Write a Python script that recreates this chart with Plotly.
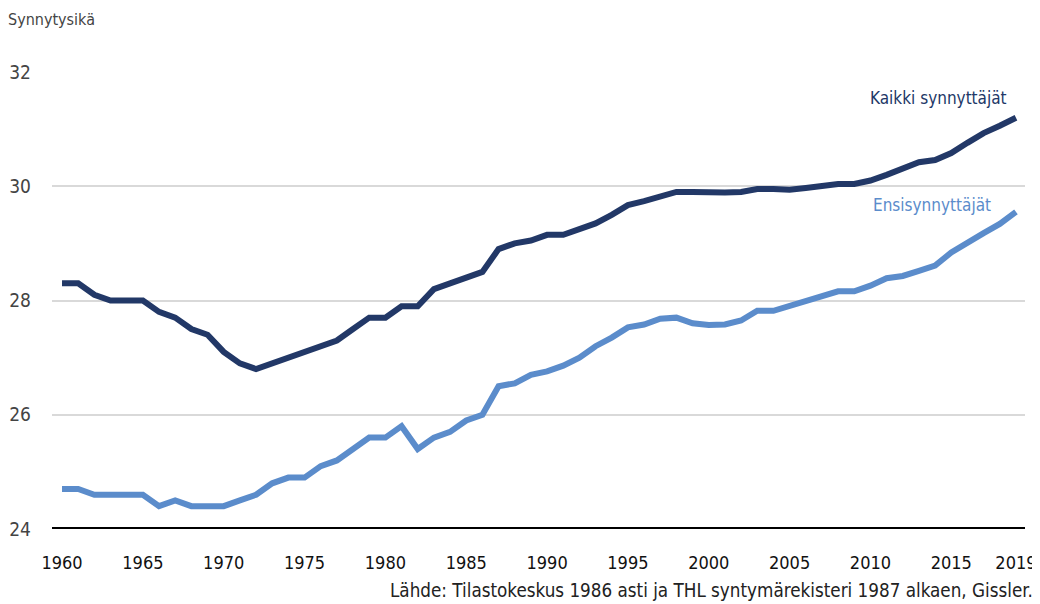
import plotly.graph_objects as go

years = list(range(1960, 2020))
kaikki = [28.3, 28.3, 28.1, 28.0, 28.0, 28.0, 27.8, 27.7, 27.5, 27.4,
          27.1, 26.9, 26.8, 26.9, 27.0, 27.1, 27.2, 27.3, 27.5, 27.7,
          27.7, 27.9, 27.9, 28.2, 28.3, 28.4, 28.5, 28.9, 29.0, 29.05,
          29.15, 29.15, 29.25, 29.35, 29.5, 29.67, 29.74, 29.83, 29.9, 29.9,
          29.89, 29.89, 29.9, 29.95, 29.95, 29.94, 29.97, 30.0, 30.04, 30.04,
          30.1, 30.2, 30.3, 30.42, 30.46, 30.58, 30.76, 30.93, 31.06, 31.2]
ensi = [24.7, 24.7, 24.6, 24.6, 24.6, 24.6, 24.4, 24.5, 24.4, 24.4,
        24.4, 24.5, 24.6, 24.8, 24.9, 24.9, 25.1, 25.2, 25.4, 25.6,
        25.6, 25.8, 25.4, 25.6, 25.7, 25.9, 26.0, 26.5, 26.55, 26.7,
        26.76, 26.86, 27.0, 27.2, 27.35, 27.53, 27.58, 27.68, 27.7, 27.6,
        27.57, 27.58, 27.65, 27.82, 27.82, 27.9, 27.99, 28.08, 28.16, 28.16,
        28.26, 28.39, 28.43, 28.52, 28.61, 28.84, 29.02, 29.18, 29.34, 29.55]
x_ticks = [1960, 1965, 1970, 1975, 1980, 1985, 1990, 1995, 2000, 2005, 2010, 2015, 2019]
y_ticks = [24, 26, 28, 30, 32]

DARK = "#223867"
LIGHT = "#5B8CCB"
FONT = "DejaVu Sans Condensed, Roboto, sans-serif"

fig = go.Figure()
fig.add_trace(go.Scatter(x=years, y=kaikki, mode="lines",
                         line=dict(color=DARK, width=6), name="Kaikki synnyttäjät"))
fig.add_trace(go.Scatter(x=years, y=ensi, mode="lines",
                         line=dict(color=LIGHT, width=6), name="Ensisynnyttäjät"))

fig.add_annotation(x=2018.6, y=31.55, xref="x", yref="y", text="Kaikki synnyttäjät",
                   showarrow=False, xanchor="right", yanchor="middle",
                   font=dict(family=FONT, size=17, color=DARK))
fig.add_annotation(x=2017.6, y=29.67, xref="x", yref="y", text="Ensisynnyttäjät",
                   showarrow=False, xanchor="right", yanchor="middle",
                   font=dict(family=FONT, size=17, color=LIGHT))
fig.add_annotation(xref="paper", yref="paper", x=-46/973, y=1 + 52/457,
                   text="Synnytysikä", showarrow=False, xanchor="left", yanchor="middle",
                   font=dict(family=FONT, size=16, color="#444444"))
fig.add_annotation(xref="paper", yref="paper", x=1 + 10/973, y=-61/457,
                   text="Lähde: Tilastokeskus 1986 asti ja THL syntymärekisteri 1987 alkaen, Gissler.",
                   showarrow=False, xanchor="right", yanchor="middle",
                   font=dict(family=FONT, size=18.7, color="#222222"))

fig.update_layout(
    width=1032, height=596,
    margin=dict(l=44, r=15, t=64, b=75),
    paper_bgcolor="white", plot_bgcolor="white",
    showlegend=False,
    font=dict(family=FONT, size=17, color="#222222"),
    xaxis=dict(range=[1959.38, 2019.56], tickvals=x_ticks, ticktext=[str(v) for v in x_ticks],
               showgrid=False, zeroline=False, showline=False, ticks="", automargin=False,
               ticklabelstandoff=21,
               tickfont=dict(family=FONT, size=18, color="#111111")),
    yaxis=dict(range=[24, 32], tickvals=y_ticks, showgrid=True, gridcolor="#d9d9d9", gridwidth=2,
               zeroline=False, showline=False, ticks="", automargin=False,
               ticklabelstandoff=20,
               tickfont=dict(family=FONT, size=19, color="#444444")),
)
fig.add_shape(type="line", xref="paper", yref="y", x0=0, x1=1, y0=24, y1=24,
              line=dict(color="black", width=4))
fig.write_html("out.html")
